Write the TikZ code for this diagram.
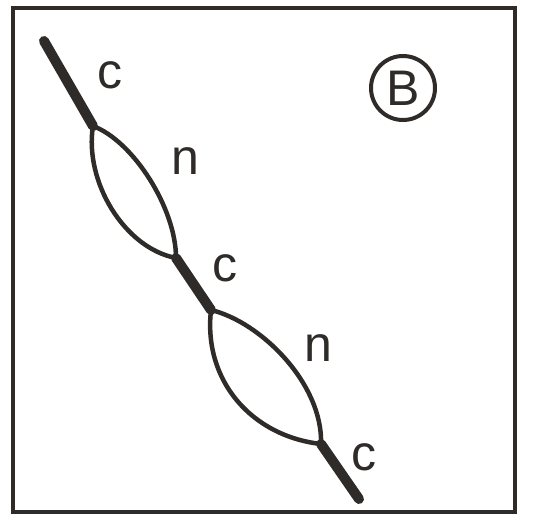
\documentclass[tikz,border=0pt]{standalone}
\usepackage{fontspec}
\setmainfont{Liberation Sans}
\definecolor{inkGrey}{HTML}{2E2B29}

\begin{document}
\begin{tikzpicture}[x=1pt, y=-1pt,
		border/.style={draw=inkGrey, line width=3.5pt},
		stem/.style={draw=inkGrey, line width=10pt, line cap=round},
		lens/.style={draw=inkGrey, line width=4.5pt, line cap=round},
		lbl/.style={font=\fontsize{50}{50}\selectfont, text=inkGrey, inner sep=0pt}
	]
		\useasboundingbox (0,0) rectangle (534,519);
		\draw[border] (13,8) rectangle (515,512);
		% junctions along the chain
		\coordinate (top) at (44,41);
		\coordinate (j1) at (93,126);
		\coordinate (j2) at (176,258);
		\coordinate (j3) at (211,310);
		\coordinate (j4) at (321,444);
		\coordinate (bot) at (359,499);
		% thick parts
		\draw[stem] (top) -- (j1);
		\draw[stem] (j2) -- (j3);
		\draw[stem] (j4) -- (bot);
		% open loops
		\draw[lens] (j1) .. controls +(-9,55) and +(-52,-10) .. (j2);
		\draw[lens] (j1) .. controls +(40,15) and +(0,-50) .. (j2);
		\draw[lens] (j3) .. controls +(-8,70) and +(-70,-8) .. (j4);
		\draw[lens] (j3) .. controls +(50,12) and +(2,-60) .. (j4);
		% labels
		\node[lbl] (c1) at (110,75) {c};
		\node[lbl] (n1) at (185,161) {n};
		\node[lbl] (c2) at (225,268) {c};
		\node[lbl] (n2) at (318,348) {n};
		\node[lbl] (c3) at (364,457) {c};
		\node[lbl, draw=inkGrey, line width=4pt, circle, minimum size=64pt] (tag) at (403,88) {B};
	\end{tikzpicture}
\end{document}
